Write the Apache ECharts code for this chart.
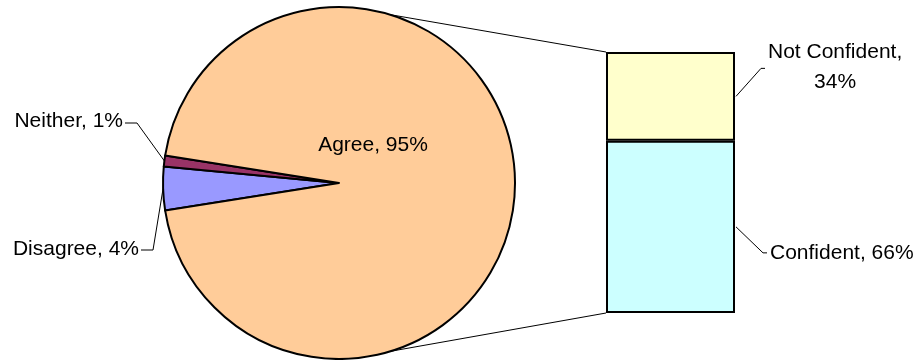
<!DOCTYPE html>
<html>
<head>
<meta charset="utf-8">
<script src="https://cdn.jsdelivr.net/npm/echarts@6/dist/echarts.min.js"></script>
<style>
html,body{margin:0;padding:0;background:#fff;}
#charts{width:919px;height:360px;}
</style>
</head>
<body>
<div id="charts"></div>
<script>
// pie slices (clockwise from the start angle)
var pieNames = ['Disagree', 'Neither', 'Agree'];
var pieValues = [4, 1, 95];
// breakdown of "Agree" shown in the bar
var barCategory = ['Agree'];
var barNames = ['Confident', 'Not Confident'];
var barValues = [66, 34];

// layout
var pieCx = 339, pieCy = 183, pieR = 176;
var barLeft = 606, barTop = 52, barW = 129, barH = 261;
var fontFamily = '"Liberation Sans", Arial, sans-serif';

var pieColors = ['#9999FF', '#993366', '#FFCC99'];
var barColors = ['#CCFFFF', '#FFFFCC'];

function pieData(){
	var arr = [];
	for (var i = 0; i < pieNames.length; i++) {
		var item = {
			name: pieNames[i],
			value: pieValues[i],
			itemStyle: {color: pieColors[i]}
		};
		if (pieNames[i] == 'Agree') {
			item.label = {position: 'inside'};
			item.labelLine = {show: false};
		}
		arr.push(item);
	}
	return arr;
}

function barSeries(){
	var arr = [];
	for (var i = 0; i < barNames.length; i++) {
		arr.push({
			name: barNames[i],
			type: 'bar',
			stack: 'total',
			barWidth: '100%',
			data: [barValues[i]],
			itemStyle: {color: barColors[i], borderColor: '#000', borderWidth: 2},
			label: {
				show: true,
				position: 'right',
				color: '#000',
				fontSize: 21,
				fontFamily: fontFamily,
				lineHeight: 30,
				align: 'center',
				formatter: barNames[i] == 'Not Confident' ? '{a},\n{c}%' : '{a}, {c}%'
			},
			labelLine: {show: false},
			labelLayout: function(params){
				var r = params.rect;
				var midY = r.y + r.height / 2;
				var right = r.x + r.width;
				var w = params.labelRect.width;
				if (params.seriesIndex == 2) {
					return {x: right + 33 + w / 2, y: midY - 29, align: 'center', verticalAlign: 'middle'};
				}
				return {x: right + 35 + w / 2, y: midY + 26, align: 'center', verticalAlign: 'middle'};
			}
		});
	}
	return arr;
}

// lines joining the pie to the bar
function connectorLines(){
	var lines = [];
	var pts = [[73, barTop], [-73, barTop + barH]];
	for (var i = 0; i < pts.length; i++) {
		var a = pts[i][0] * Math.PI / 180;
		lines.push({
			type: 'line',
			silent: true,
			shape: {
				x1: pieCx + pieR * Math.cos(a),
				y1: pieCy - pieR * Math.sin(a),
				x2: barLeft,
				y2: pts[i][1]
			},
			style: {stroke: '#000', lineWidth: 1}
		});
	}
	return lines;
}

// leader lines of the bar labels, from the segment middles
function barLeaders(){
	var out = [];
	var base = 0;
	var right = barLeft + barW;
	for (var i = 0; i < barValues.length; i++) {
		var y0 = charts.convertToPixel({gridIndex: 0}, [0, base])[1];
		var y1 = charts.convertToPixel({gridIndex: 0}, [0, base + barValues[i]])[1];
		base += barValues[i];
		var mid = (y0 + y1) / 2;
		var pts = barNames[i] == 'Not Confident'
			? [[right + 1, mid], [right + 26, mid - 28], [right + 30, mid - 28]]
			: [[right + 1, mid], [right + 28, mid + 26], [right + 32, mid + 26]];
		out.push({
			type: 'polyline',
			silent: true,
			shape: {points: pts},
			style: {stroke: '#000', lineWidth: 1, fill: null}
		});
	}
	return out;
}

var options = {
	animation: false,
	backgroundColor: '#fff',
	grid: {left: barLeft, top: barTop, width: barW, height: barH},
	xAxis: {
		type: 'category',
		data: barCategory,
		show: false
	},
	yAxis: {
		type: 'value',
		min: 0,
		max: 100,
		show: false
	},
	series: [
		{
			name: 'Response',
			type: 'pie',
			center: [pieCx, pieCy],
			radius: pieR,
			startAngle: 189,
			clockwise: true,
			avoidLabelOverlap: false,
			itemStyle: {borderColor: '#000', borderWidth: 2},
			label: {
				show: true,
				color: '#000',
				fontSize: 21,
				fontFamily: fontFamily,
				formatter: '{b}, {c}%'
			},
			labelLine: {show: true, lineStyle: {color: '#000', width: 1}},
			labelLayout: function(params){
				var p = params.labelLinePoints;
				var name = pieNames[params.dataIndex];
				if (name == 'Agree') {
					return {x: pieCx + 34, y: pieCy - 38, align: 'center', verticalAlign: 'middle'};
				}
				var s = p ? p[0] : [pieCx - pieR, pieCy];
				if (name == 'Neither') {
					return {
						x: 123, y: 121, align: 'right', verticalAlign: 'middle',
						labelLinePoints: [s, [137, 123], [125, 123]]
					};
				}
				return {
					x: 139, y: 249, align: 'right', verticalAlign: 'middle',
					labelLinePoints: [s, [153, 250], [141, 250]]
				};
			},
			data: pieData()
		}
	].concat(barSeries())
};

var charts = echarts.init(document.getElementById('charts'));
charts.setOption(options);
charts.setOption({graphic: connectorLines().concat(barLeaders())});
</script>
</body>
</html>
